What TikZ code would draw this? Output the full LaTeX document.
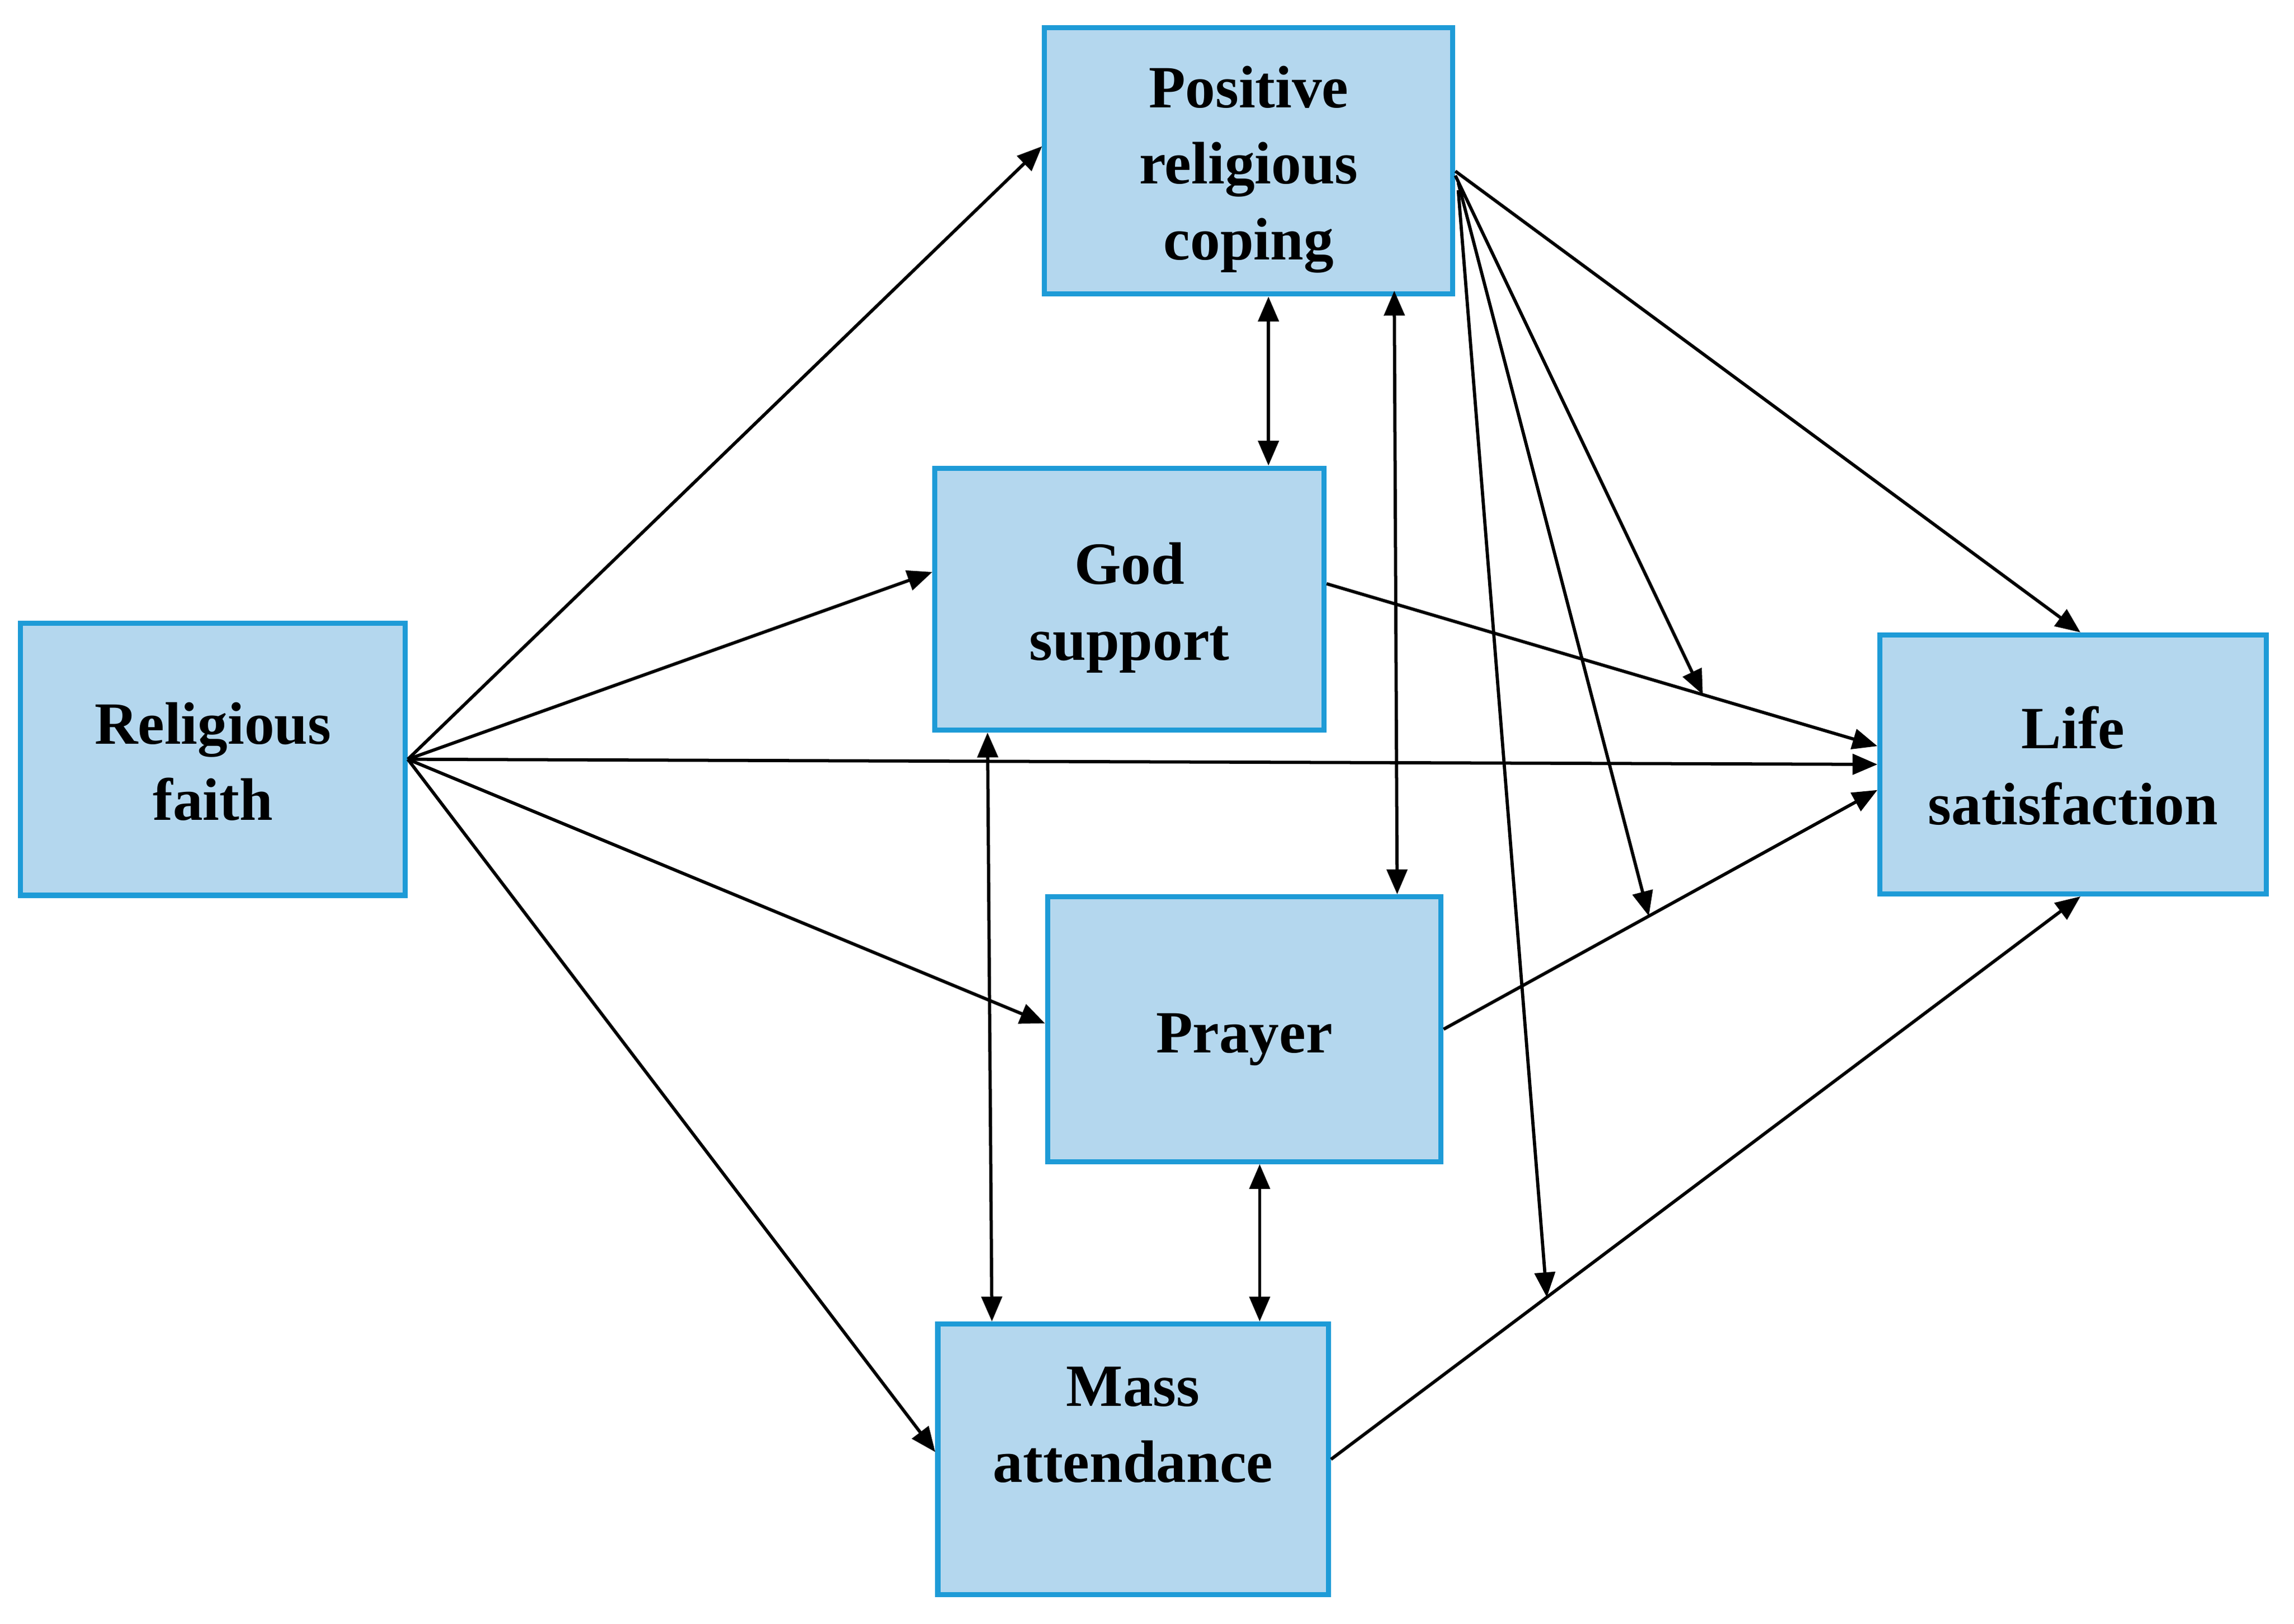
\documentclass[tikz,border=0pt]{standalone}
\usepackage{fontspec}
\setmainfont{Liberation Serif}
\usetikzlibrary{arrows.meta,calc}
\definecolor{boxfill}{RGB}{180,215,238}
\definecolor{boxline}{RGB}{30,155,215}
\begin{document}
\begin{tikzpicture}[x=1pt,y=-1pt,
  box/.style={draw=boxline, fill=boxfill, line width=3.5pt, inner sep=0pt},
  lbl/.style={font=\fontsize{41}{52}\selectfont\bfseries, align=center, text=black, inner sep=0pt},
  arr/.style={line width=2.2pt, -{Triangle[length=17pt,width=14pt]}},
  darr/.style={line width=2.2pt, {Triangle[length=17pt,width=14pt]}-{Triangle[length=17pt,width=14pt]}}]
\fill[white] (0,0) rectangle (1568,1110);
\useasboundingbox (0,0) rectangle (1568,1110);

\node[box, minimum width=263pt, minimum height=186pt] (rf) at (145.5,519) {};
\node[box, minimum width=279pt, minimum height=182pt] (prc) at (853.5,110) {};
\node[box, minimum width=266pt, minimum height=179pt] (gs) at (772,409.5) {};
\node[box, minimum width=264pt, minimum height=177pt] (ls) at (1417,522.5) {};
\node[box, minimum width=269pt, minimum height=181pt] (pr) at (850.5,703.5) {};
\node[box, minimum width=267pt, minimum height=185pt] (ma) at (774.5,997.5) {};

\node[lbl] (rftext) at ([yshift=-1.5pt]rf.center) {Religious\\faith};
\node[lbl] (prctext) at ([yshift=-6pt]prc.center) {Positive\\religious\\coping};
\node[lbl] (gstext) at ([yshift=-6pt]gs.center) {God\\support};
\node[lbl] (lstext) at ([yshift=-1pt]ls.center) {Life\\satisfaction};
\node[lbl] (prtext) at ([yshift=-7pt]pr.center) {Prayer};
\node[lbl] (matext) at ([yshift=23.5pt]ma.center) {Mass\\attendance};

% from religious faith
\draw[arr] (rf.east) -- ([yshift=10pt]prc.west);
\draw[arr] (rf.east) -- ([yshift=18.5pt]gs.west);
\draw[arr] (rf.east) -- (ls.west);
\draw[arr] (rf.east) -- ([yshift=4pt]pr.west);
\draw[arr] (rf.east) -- ([yshift=5pt]ma.west);

% covariances
\draw[darr] ([xshift=13.5pt]prc.south) -- ([xshift=95pt]gs.north);
\draw[darr] ([xshift=99.5pt,yshift=4pt]prc.south) -- ([xshift=104.5pt]pr.north);
\draw[darr] ([xshift=-97pt]gs.south) -- ([xshift=-96.5pt]ma.north);
\draw[darr] ([xshift=10.5pt]pr.south) -- ([xshift=86.5pt]ma.north);

% to life satisfaction
\draw[arr] ([yshift=-7pt]prc.east) -- ([xshift=5pt]ls.north);
\draw[arr] ([yshift=10.5pt]gs.east) -- coordinate[pos=0.683] (m1) ([yshift=12.5pt]ls.west);
\draw[arr] (pr.east) -- coordinate[pos=0.473] (m2) ([yshift=-17.5pt]ls.west);
\draw[arr] (ma.east) -- coordinate[pos=0.288] (m3) ([xshift=5pt]ls.south);

% moderation arrows
\draw[arr] ([yshift=-10pt]prc.east) -- (m1);
\draw[arr] ([xshift=2pt,yshift=-15pt]prc.east) -- (m2);
\draw[arr] ([xshift=2pt,yshift=-20pt]prc.east) -- (m3);
\end{tikzpicture}
\end{document}
